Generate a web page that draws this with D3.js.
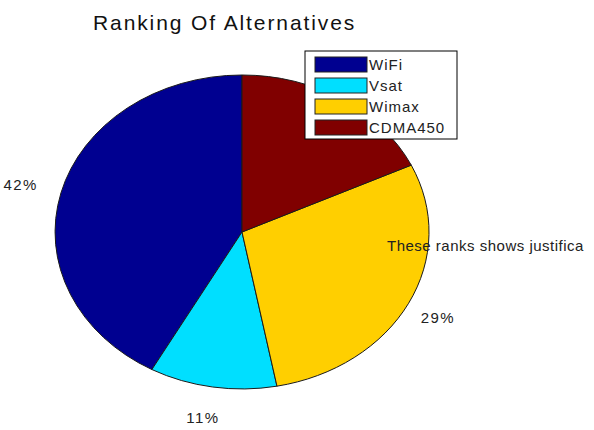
<!DOCTYPE html>
<html>
<head>
<meta charset="utf-8">
<script src="https://cdn.jsdelivr.net/npm/d3@7"></script>
<style>
  body { margin: 0; background: #fff; overflow: hidden; }
  text { font-family: "Liberation Sans", Arial, sans-serif; }
</style>
</head>
<body>
<div id="root"></div>
<script>
const categories = ['WiFi', 'Vsat', 'Wimax', 'CDMA450']
const values = [42, 11, 29, 18]
const colors = ['#000090', '#00DFFF', '#FFCF00', '#800000']

const width = 594
const height = 430
const cx = 242
const cy = 232
const rx = 187
const ry = 157

const svg = d3.select('#root').append('svg')
  .attr('width', width)
  .attr('height', height)

svg.append('text')
  .attr('x', 93)
  .attr('y', 30)
  .attr('font-size', 21)
  .attr('letter-spacing', 1.9)
  .attr('fill', '#111')
  .text('Ranking Of Alternatives')

// matlab pie goes counterclockwise from the top, so flip x
const pie = d3.pie().sort(null).value(d => d)
const arcs = pie(values)
const arc = d3.arc().innerRadius(0).outerRadius(1)

const g = svg.append('g')
  .attr('transform', 'translate(' + cx + ',' + cy + ') scale(' + (-rx) + ',' + ry + ')')

g.selectAll('path')
  .data(arcs)
  .enter()
  .append('path')
  .attr('d', arc)
  .attr('fill', (d, i) => colors[i])
  .attr('stroke', '#1a1a1a')
  .attr('stroke-width', 1)
  .attr('vector-effect', 'non-scaling-stroke')

// the CDMA450 label sits behind the legend in the original, so it is left out
const total = d3.sum(values)
svg.selectAll('.lbl')
  .data(arcs.slice(0, 3))
  .enter()
  .append('text')
  .attr('class', 'lbl')
  .attr('x', d => cx - 1.2 * rx * Math.sin((d.startAngle + d.endAngle) / 2) - 4)
  .attr('y', d => cy - 1.2 * ry * Math.cos((d.startAngle + d.endAngle) / 2) + 5)
  .attr('text-anchor', 'middle')
  .attr('font-size', 15)
  .attr('letter-spacing', 1.5)
  .attr('fill', '#222')
  .text(d => Math.round(d.value / total * 100) + '%')

// text runs up to the right edge in the original
svg.append('text')
  .attr('x', 387)
  .attr('y', 251)
  .attr('font-size', 15)
  .attr('letter-spacing', 0.5)
  .attr('fill', '#222')
  .text('These ranks shows justifica')

// legend
const legend = svg.append('g').attr('transform', 'translate(305,51)')
legend.append('rect')
  .attr('x', 0).attr('y', 0)
  .attr('width', 152).attr('height', 88)
  .attr('fill', '#fff')
  .attr('stroke', '#000')

const item = legend.selectAll('.item')
  .data(categories)
  .enter()
  .append('g')
  .attr('transform', (d, i) => 'translate(0,' + (6 + i * 21) + ')')

item.append('rect')
  .attr('x', 10).attr('y', 0)
  .attr('width', 52).attr('height', 15)
  .attr('fill', (d, i) => colors[i])
  .attr('stroke', '#222')

item.append('text')
  .attr('x', 64)
  .attr('y', 13)
  .attr('font-size', 15)
  .attr('letter-spacing', 1)
  .attr('fill', '#222')
  .text(d => d)
</script>
</body>
</html>
